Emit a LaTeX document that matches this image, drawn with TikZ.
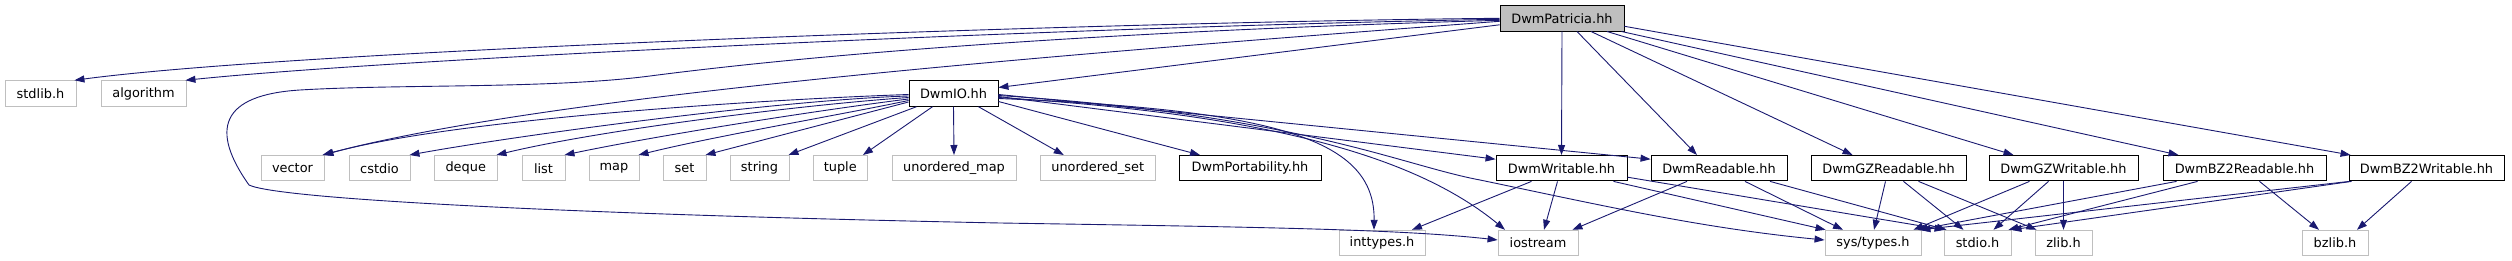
\documentclass[tikz,border=0pt]{standalone}
\usepackage{fontspec}
\setmainfont{DejaVu Sans}
\usetikzlibrary{arrows.meta}
\definecolor{edgeblue}{HTML}{191970}
\definecolor{greyseventyfive}{HTML}{BFBFBF}
\begin{document}
\begin{tikzpicture}[x=1pt,y=-1pt,
  nd/.style={draw=black, line width=0.9pt, fill=white, minimum height=25.5pt,
    inner sep=0pt, font=\fontsize{12.9}{15}\selectfont, anchor=center},
  ext/.style={nd, draw=greyseventyfive},
  root/.style={nd, fill=greyseventyfive},
  edge/.style={draw=edgeblue, line width=0.9pt, -{Triangle[length=10pt,width=7pt]}}]
\useasboundingbox (0,0) rectangle (2512,261);

% row 1
\node[root, minimum width=124pt] (patricia) at (1562,18.3) {DwmPatricia.hh};
% row 2
\node[ext, minimum width=71pt] (stdlib) at (40.5,93.5) {stdlib.h};
\node[ext, minimum width=85pt] (algorithm) at (143.5,93.5) {algorithm};
\node[nd, minimum width=89pt] (dwmio) at (953.5,93.5) {DwmIO.hh};
% row 3
\node[ext, minimum width=63pt] (vector) at (292.5,168.2) {vector};
\node[ext, minimum width=61pt] (cstdio) at (379.5,168.2) {cstdio};
\node[ext, minimum width=62.5pt] (deque) at (465.75,168.2) {deque};
\node[ext, minimum width=43pt] (list) at (543.5,168.2) {list};
\node[ext, minimum width=50pt] (map) at (614,168.2) {map};
\node[ext, minimum width=43pt] (set) at (684.5,168.2) {set};
\node[ext, minimum width=59pt] (string) at (759.5,168.2) {string};
\node[ext, minimum width=54.5pt] (tuple) at (840.25,168.2) {tuple};
\node[ext, minimum width=124pt] (umap) at (954,168.2) {unordered\_map};
\node[ext, minimum width=114.5pt] (uset) at (1097.75,168.2) {unordered\_set};
\node[nd, minimum width=142pt] (portab) at (1250,168.2) {DwmPortability.hh};
\node[nd, minimum width=131pt] (writable) at (1561.5,168.2) {DwmWritable.hh};
\node[nd, minimum width=136pt] (readable) at (1719,168.2) {DwmReadable.hh};
\node[nd, minimum width=155pt] (gzread) at (1888.5,168.2) {DwmGZReadable.hh};
\node[nd, minimum width=149pt] (gzwrite) at (2063.5,168.2) {DwmGZWritable.hh};
\node[nd, minimum width=163pt] (bzread) at (2244.5,168.2) {DwmBZ2Readable.hh};
\node[nd, minimum width=155pt] (bzwrite) at (2426.5,168.2) {DwmBZ2Writable.hh};
% row 4
\node[ext, minimum width=86pt] (inttypes) at (1382,243) {inttypes.h};
\node[ext, minimum width=80pt] (iostream) at (1538,243) {iostream};
\node[ext, minimum width=96pt] (systypes) at (1873,243) {sys/types.h};
\node[ext, minimum width=67pt] (stdio) at (1977.5,243) {stdio.h};
\node[ext, minimum width=57pt] (zlib) at (2063.5,243) {zlib.h};
\node[ext, minimum width=66pt] (bzlib) at (2335,243) {bzlib.h};

% DwmPatricia.hh
\draw[edge] (patricia.west) .. controls (1100,22) and (300,50) .. ([xshift=-2pt]stdlib.north east);
\draw[edge] ([yshift=-1pt]patricia.west) .. controls (1100,26) and (400,58) .. ([xshift=-1pt]algorithm.north east);
\draw[edge] ([yshift=-2pt]patricia.west) .. controls (1150,30) and (850,50) .. (650,76)
  .. controls (550,89) and (400,84) .. (300,90)
  .. controls (220,95) and (210,130) .. (249,185)
  .. controls (280,200) and (600,215) .. (1000,223)
  .. controls (1250,227) and (1400,229) .. ([yshift=3pt]iostream.west);
\draw[edge] ([yshift=-3pt]patricia.west) .. controls (1050,55) and (550,95) .. ([xshift=-2pt]vector.north east);
\draw[edge] ([yshift=-6.5pt]patricia.west) -- ([yshift=6pt]dwmio.east);
\draw[edge] (patricia.south) -- (writable.north);
\draw[edge] ([xshift=15pt]patricia.south) -- ([xshift=-22pt]readable.north);
\draw[edge] ([xshift=29pt]patricia.south) -- ([xshift=-36pt]gzread.north);
\draw[edge] ([xshift=45pt]patricia.south) -- ([xshift=-50pt]gzwrite.north);
\draw[edge] ([xshift=-3pt]patricia.south east) -- ([xshift=-66pt]bzread.north);
\draw[edge] ([yshift=-8pt]patricia.east) -- ([xshift=2pt]bzwrite.north west);

% DwmIO.hh
\draw[edge] ([yshift=-1pt]dwmio.west) .. controls (750,100) and (450,120) .. ([xshift=-1pt]vector.north east);
\draw[edge] ([yshift=-2.5pt]dwmio.west) .. controls (780,100) and (520,135) .. ([xshift=-1pt]cstdio.north east);
\draw[edge] ([yshift=-4pt]dwmio.west) .. controls (800,105) and (600,130) .. ([xshift=-1pt]deque.north east);
\draw[edge] ([yshift=-5.5pt]dwmio.west) .. controls (820,110) and (660,135) .. ([xshift=-1pt]list.north east);
\draw[edge] ([yshift=-7pt]dwmio.west) .. controls (840,115) and (720,135) .. ([xshift=-1pt]map.north east);
\draw[edge] ([yshift=-8.5pt]dwmio.west) -- ([xshift=-1pt]set.north east);
\draw[edge] ([xshift=8pt]dwmio.south west) -- ([xshift=-1pt]string.north east);
\draw[edge] ([xshift=24pt]dwmio.south west) -- ([xshift=-5pt]tuple.north east);
\draw[edge] (dwmio.south) -- (umap.north);
\draw[edge] ([xshift=-20pt]dwmio.south east) -- ([xshift=-34pt]uset.north);
\draw[edge] ([yshift=-8pt]dwmio.east) -- ([xshift=-50pt]portab.north);
\draw[edge] ([yshift=-3pt]dwmio.east) -- ([yshift=9pt]writable.west);
\draw[edge] ([yshift=-1pt]dwmio.east) -- ([yshift=9pt]readable.west);
\draw[edge] ([yshift=-5pt]dwmio.east) .. controls (1280,110) and (1375,140) .. ([xshift=-8pt]inttypes.north);
\draw[edge] ([yshift=-4pt]dwmio.east) .. controls (1280,115) and (1420,160) .. ([xshift=-33pt]iostream.north);
\draw[edge] ([yshift=-2pt]dwmio.east) .. controls (1300,115) and (1400,165) .. (1480,180)
  .. controls (1600,205) and (1700,228) .. ([yshift=3pt]systypes.west);

% DwmWritable.hh
\draw[edge] ([xshift=-30pt]writable.south) -- ([xshift=30pt]inttypes.north);
\draw[edge] ([xshift=-4pt]writable.south) -- ([xshift=6pt]iostream.north);
\draw[edge] ([xshift=-14pt]writable.south east) -- ([xshift=1pt]systypes.north west);
\draw[edge] ([yshift=-9pt]writable.east) -- ([xshift=1pt]stdio.north west);

% DwmReadable.hh
\draw[edge] ([xshift=-32pt]readable.south) -- ([xshift=-6pt]iostream.north east);
\draw[edge] ([xshift=26pt]readable.south) -- ([xshift=-30pt]systypes.north);
\draw[edge] ([xshift=51pt]readable.south) -- ([xshift=-31pt]stdio.north);

% DwmGZReadable.hh
\draw[edge] ([xshift=-3pt]gzread.south) -- ([xshift=1pt]systypes.north);
\draw[edge] ([xshift=15pt]gzread.south) -- ([xshift=-14pt]stdio.north);
\draw[edge] ([xshift=30pt]gzread.south) -- ([xshift=2pt]zlib.north west);

% DwmGZWritable.hh
\draw[edge] ([xshift=-34pt]gzwrite.south) -- ([xshift=-8pt]systypes.north east);
\draw[edge] ([xshift=-15pt]gzwrite.south) -- ([xshift=16pt]stdio.north);
\draw[edge] (gzwrite.south) -- (zlib.north);

% DwmBZ2Readable.hh
\draw[edge] ([xshift=14pt]bzread.south west) -- ([xshift=-4pt]systypes.north east);
\draw[edge] ([xshift=35pt]bzread.south west) -- ([xshift=-3pt]stdio.north east);
\draw[edge] ([xshift=15pt]bzread.south) -- ([xshift=-16pt]bzlib.north);

% DwmBZ2Writable.hh
\draw[edge] ([xshift=1pt]bzwrite.south west) -- ([xshift=-1pt]systypes.north east);
\draw[edge] ([xshift=3pt]bzwrite.south west) -- (stdio.north east);
\draw[edge] ([xshift=-15pt]bzwrite.south) -- ([xshift=22pt]bzlib.north);
\end{tikzpicture}
\end{document}
